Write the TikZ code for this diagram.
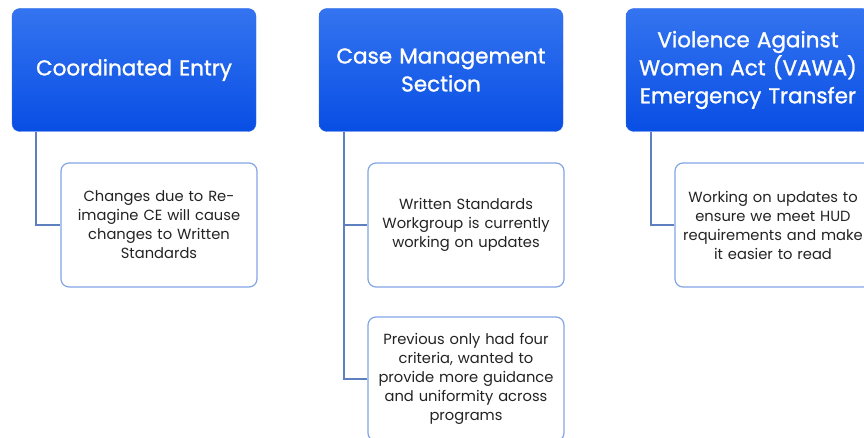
\documentclass[tikz,border=0pt]{standalone}
\usepackage{fontspec}
\setmainfont{Poppins}
\newfontfamily\headfont{Poppins}[FakeBold=1.2]
\usetikzlibrary{positioning}
\definecolor{headtop}{RGB}{52,116,240}
\definecolor{headbot}{RGB}{8,78,228}
\definecolor{leafline}{RGB}{130,165,230}
\definecolor{linkline}{RGB}{95,128,190}
\definecolor{leaftext}{RGB}{35,35,35}

\begin{document}
\begin{tikzpicture}[x=1pt, y=1pt]
    \tikzstyle{head} = [rectangle, rounded corners=8pt, draw=headbot!85!white, top color=headtop, bottom color=headbot, text=white, minimum width=244pt, minimum height=123pt, text width=240pt, align=center, inner sep=0pt, font=\headfont\fontsize{21.5}{28}\selectfont]
    \tikzstyle{leaf} = [rectangle, rounded corners=8pt, draw=leafline, line width=1.2pt, fill=white, text=leaftext, minimum width=196pt, minimum height=124pt, text width=194pt, align=center, inner sep=0pt, font=\fontsize{14.7}{19}\selectfont]
    \tikzstyle{link} = [draw=linkline, line width=1.8pt]

    \useasboundingbox (0,0) rectangle (864,-438);
    \clip (0,0) rectangle (864,-438);

    % Heads
    \node[head] (ce) at (134,-70) {Coordinated Entry};
    \node[head] (cm) at (441,-70) {Case Management\\Section};
    \node[head] (vawa) at (748,-70) {Violence Against\\Women Act (VAWA)\\Emergency Transfer};

    % Leaves
    \node[leaf] (ce1) at (159,-225) {Changes due to Re-\\imagine CE will cause\\changes to Written\\Standards};
    \node[leaf] (cm1) at (466,-225) {Written Standards\\Workgroup is currently\\working on updates};
    \node[leaf] (cm2) at (466,-379) {Previous only had four\\criteria, wanted to\\provide more guidance\\and uniformity across\\programs};
    \node[leaf] (vawa1) at (773,-225) {Working on updates to\\ensure we meet HUD\\requirements and make\\it easier to read};

    % Links
    \draw[link] ([xshift=24pt]ce.south west) |- (ce1.west);
    \draw[link] ([xshift=25pt]cm.south west) |- (cm1.west);
    \draw[link] ([xshift=25pt]cm.south west) |- (cm2.west);
    \draw[link] ([xshift=25pt]vawa.south west) |- (vawa1.west);
\end{tikzpicture}
\end{document}
